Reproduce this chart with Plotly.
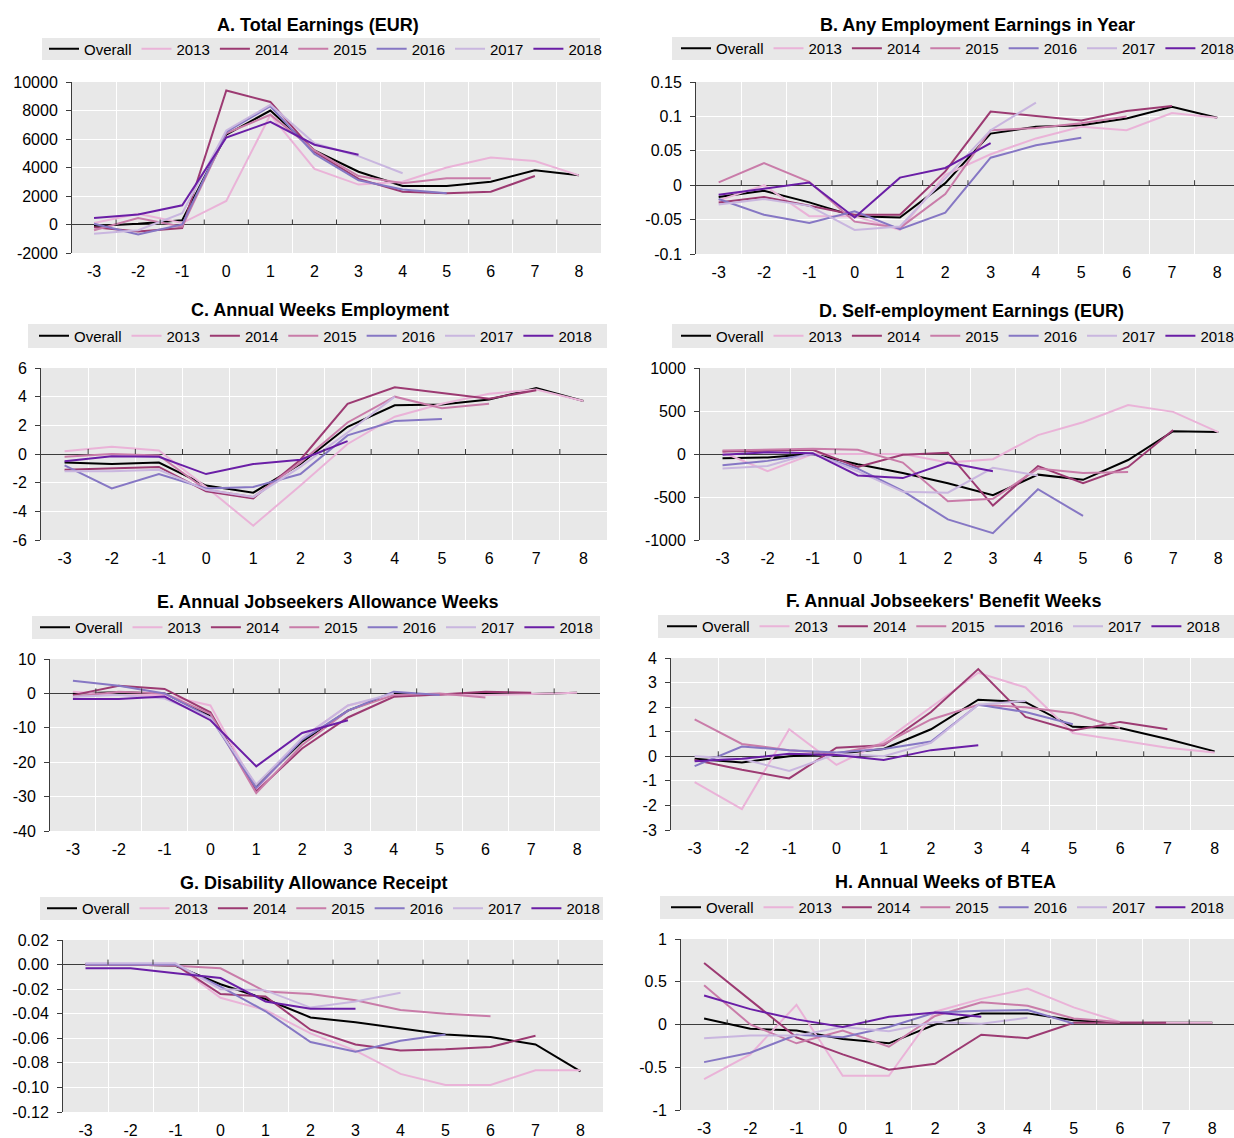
import plotly.graph_objects as go

# ---------------------------------------------------------------------------
# Data: event-time (years relative to spell start) and cohort series
# ---------------------------------------------------------------------------
periods = [-3, -2, -1, 0, 1, 2, 3, 4, 5, 6, 7, 8]
series_names = ["Overall", "2013", "2014", "2015", "2016", "2017", "2018"]
series_colors = ["#000000", "#eab3d8", "#9c3a72", "#c97ca9", "#8677c4", "#c9b6df", "#6a1ea6"]

panel_titles = [
    "A. Total Earnings (EUR)",
    "B. Any Employment Earnings in Year",
    "C. Annual Weeks Employment",
    "D. Self-employment Earnings (EUR)",
    "E. Annual Jobseekers Allowance Weeks",
    "F. Annual Jobseekers' Benefit Weeks",
    "G. Disability Allowance Receipt",
    "H. Annual Weeks of BTEA",
]

# one row per series, in the order of series_names
total_earnings = [
    [-100, 50, 300, 6300, 8000, 5200, 3700, 2700, 2700, 3000, 3800, 3450],
    [100, 750, 100, 1650, 7700, 3900, 2800, 3000, 4000, 4700, 4450, 3450],
    [-200, -500, -250, 9400, 8600, 5100, 3200, 2300, 2200, 2300, 3400],
    [-400, 450, -150, 6400, 7700, 5200, 3400, 2900, 3250, 3250],
    [50, -700, 0, 6500, 8300, 4950, 3100, 2450, 2200],
    [-650, -400, 800, 6600, 8400, 5700, 4800, 3600],
    [450, 700, 1350, 6100, 7200, 5600, 4900],
]
any_employment = [
    [-0.017, -0.008, -0.025, -0.045, -0.047, 0.003, 0.075, 0.085, 0.087, 0.097, 0.114, 0.098],
    [-0.022, 0.0, -0.045, -0.045, -0.065, 0.015, 0.045, 0.068, 0.085, 0.08, 0.105, 0.098],
    [-0.025, -0.017, -0.03, -0.043, -0.043, 0.02, 0.107, 0.1, 0.094, 0.108, 0.115],
    [0.004, 0.032, 0.005, -0.053, -0.062, -0.013, 0.08, 0.083, 0.09, 0.1],
    [-0.02, -0.043, -0.055, -0.038, -0.064, -0.04, 0.04, 0.058, 0.069],
    [-0.028, -0.02, -0.03, -0.065, -0.06, 0.01, 0.08, 0.12],
    [-0.014, -0.005, 0.004, -0.047, 0.011, 0.025, 0.061],
]
weeks_employment = [
    [-0.6, -0.7, -0.6, -2.2, -2.7, -0.7, 1.9, 3.4, 3.45, 3.8, 4.6, 3.7],
    [0.2, 0.5, 0.25, -2.3, -5.0, -2.2, 0.7, 2.6, 3.5, 4.2, 4.5, 3.7],
    [-1.1, -1.0, -0.9, -2.6, -3.1, -0.4, 3.5, 4.65, 4.25, 3.85, 4.45],
    [-0.2, 0.0, -0.1, -2.5, -3.0, -0.6, 2.2, 4.0, 3.2, 3.5],
    [-0.8, -2.4, -1.4, -2.4, -2.3, -1.4, 1.3, 2.3, 2.45],
    [-1.2, -1.2, -1.1, -2.5, -3.0, -0.9, 1.5, 4.0],
    [-0.5, -0.15, -0.2, -1.4, -0.7, -0.4, 0.9],
]
self_employment = [
    [-50, -40, 0, -120, -220, -340, -480, -240, -300, -70, 265, 255],
    [20, -200, 0, 0, 0, -100, -60, 220, 370, 570, 490, 255],
    [30, 40, 50, -150, -10, 15, -600, -140, -340, -150, 280],
    [40, 50, 60, 50, -100, -550, -520, -170, -220, -210],
    [-130, -80, 0, -170, -430, -760, -920, -410, -720],
    [-170, -140, 10, -200, -440, -450, -160, -250],
    [-10, 20, 10, -250, -280, -100, -200],
]
jsa_weeks = [
    [0, 0.3, 0, -6.5, -27, -14, -5, 0, -0.3, 0, -0.2, 0.2],
    [0.5, -0.5, -0.5, -3.5, -28, -13, -3.5, -0.5, -0.3, -0.5, -0.2, 0.2],
    [-0.5, 2.2, 1.3, -5.5, -28.5, -16, -7, -1, -0.3, 0.5, 0.2],
    [-1, 0.5, 0, -6, -29, -15, -5, -0.5, 0, -1.2],
    [3.7, 2.2, 0, -7, -27.5, -13.5, -5, 0.5, -0.5],
    [-1, -0.5, -1.5, -7, -26.5, -13, -3.5, 0],
    [-1.6, -1.6, -0.9, -7.8, -21.2, -11.5, -7.8],
]
jsb_weeks = [
    [-0.1, -0.25, 0.0, 0.1, 0.3, 1.1, 2.3, 2.2, 1.2, 1.15, 0.7, 0.2],
    [-1.05, -2.15, 1.1, -0.35, 0.6, 2.0, 3.4, 2.8, 0.95, 0.65, 0.35, 0.15],
    [-0.15, -0.55, -0.9, 0.35, 0.45, 1.8, 3.55, 1.6, 1.05, 1.4, 1.1],
    [1.5, 0.5, 0.25, 0.1, 0.5, 1.5, 2.1, 2.0, 1.75, 1.15],
    [-0.4, 0.4, 0.25, 0.15, 0.3, 0.6, 2.1, 1.8, 1.3],
    [0.0, -0.1, -0.6, 0.1, 0.0, 0.55, 2.1, 2.25],
    [-0.2, -0.1, 0.1, 0.05, -0.15, 0.25, 0.45],
]
disability = [
    [0.0, 0.0, -0.001, -0.016, -0.028, -0.043, -0.047, -0.052, -0.057, -0.059, -0.065, -0.087],
    [0.0, 0.0, 0.0, -0.027, -0.037, -0.056, -0.07, -0.089, -0.098, -0.098, -0.086, -0.086],
    [0.0, 0.0, 0.0, -0.024, -0.026, -0.053, -0.065, -0.07, -0.069, -0.067, -0.058],
    [0.0, 0.0, -0.001, -0.003, -0.022, -0.024, -0.029, -0.037, -0.04, -0.042],
    [0.0, 0.0, 0.0, -0.018, -0.038, -0.063, -0.071, -0.062, -0.057],
    [0.001, 0.001, 0.001, -0.02, -0.021, -0.035, -0.03, -0.023],
    [-0.003, -0.003, -0.007, -0.011, -0.03, -0.036, -0.036],
]
btea_weeks = [
    [0.07, -0.05, -0.07, -0.17, -0.22, 0.0, 0.13, 0.13, 0.05, 0.02, 0.02, 0.02],
    [-0.64, -0.35, 0.23, -0.6, -0.6, 0.15, 0.3, 0.42, 0.2, 0.03, 0.02, 0.02],
    [0.72, 0.28, -0.15, -0.35, -0.53, -0.46, -0.12, -0.16, 0.02, 0.02, 0.02],
    [0.46, 0.0, -0.22, -0.07, -0.26, 0.1, 0.26, 0.22, 0.07, 0.03],
    [-0.44, -0.33, -0.12, -0.15, -0.03, 0.14, 0.16, 0.17, 0.01],
    [-0.16, -0.13, -0.13, -0.03, -0.08, 0.03, 0.01, 0.08],
    [0.34, 0.18, 0.06, -0.03, 0.09, 0.14, 0.09],
]

# y-axis ticks per panel
yticks_a = [-2000, 0, 2000, 4000, 6000, 8000, 10000]
yticks_b = [-0.1, -0.05, 0, 0.05, 0.1, 0.15]
yticks_c = [-6, -4, -2, 0, 2, 4, 6]
yticks_d = [-1000, -500, 0, 500, 1000]
yticks_e = [-40, -30, -20, -10, 0, 10]
yticks_f = [-3, -2, -1, 0, 1, 2, 3, 4]
yticks_g = [-0.12, -0.10, -0.08, -0.06, -0.04, -0.02, 0.00, 0.02]
yticks_h = [-1, -0.5, 0, 0.5, 1]

# ---------------------------------------------------------------------------
# Layout geometry (pixels on a 1234 x 1138 canvas)
# ---------------------------------------------------------------------------
W, H = 1234, 1138
FONT = "Liberation Sans, Arial, sans-serif"
AXIS_COLOR = "#3c3c3c"
PANEL_BG = "#e8e8e8"

panels = [
    # data, yticks, label format, plot box (l, r, t, b), x max, title centre,
    # legend band (l, r, t, b), legend left edge
    dict(data=total_earnings, yt=yticks_a, fmt="{:g}", box=(72, 601, 82, 253), xmax=8.5,
         title=(318, 25), band=(42, 600, 38, 60), leg=44),
    dict(data=any_employment, yt=yticks_b, fmt="{:g}", box=(696, 1234, 82, 254), xmax=8.37,
         title=(977, 25), band=(672, 1234, 37, 60), leg=676),
    dict(data=weeks_employment, yt=yticks_c, fmt="{:g}", box=(41, 607, 368, 540), xmax=8.5,
         title=(320, 310), band=(28, 607, 324, 348), leg=34),
    dict(data=self_employment, yt=yticks_d, fmt="{:g}", box=(700, 1234, 368, 540), xmax=8.35,
         title=(971, 311), band=(672, 1234, 324, 348), leg=676),
    dict(data=jsa_weeks, yt=yticks_e, fmt="{:g}", box=(50, 600, 659, 831), xmax=8.5,
         title=(327, 602), band=(32, 600, 616, 639), leg=35),
    dict(data=jsb_weeks, yt=yticks_f, fmt="{:g}", box=(671, 1234, 658, 830), xmax=8.41,
         title=(943, 601), band=(658, 1234, 615, 638), leg=662),
    dict(data=disability, yt=yticks_g, fmt="{:.2f}", box=(63, 603, 940, 1112), xmax=8.5,
         title=(313, 883), band=(40, 603, 897, 920), leg=42),
    dict(data=btea_weeks, yt=yticks_h, fmt="{:g}", box=(681, 1234, 939, 1110), xmax=8.47,
         title=(945, 882), band=(660, 1234, 896, 919), leg=666),
]


def px_x(v):
    return v / W


def px_y(v):
    return 1 - v / H


def label(v, fmt):
    s = fmt.format(v)
    if s in ("-0", "-0.00"):
        s = s[1:]
    return s


boundaries = [p + 0.5 for p in periods[:-1]]

fig = go.Figure()
layout = dict(
    width=W, height=H, margin=dict(l=0, r=0, t=0, b=0, autoexpand=False),
    paper_bgcolor="white", plot_bgcolor=PANEL_BG,
    font=dict(family=FONT, size=16, color="#000000"),
    showlegend=True,
)
shapes = []
annotations = []

for i, p in enumerate(panels):
    n = i + 1
    xa = "xaxis" if n == 1 else f"xaxis{n}"
    ya = "yaxis" if n == 1 else f"yaxis{n}"
    xr = "x" if n == 1 else f"x{n}"
    yr = "y" if n == 1 else f"y{n}"
    lg = "legend" if n == 1 else f"legend{n}"
    l, r, t, b = p["box"]

    for k, name in enumerate(series_names):
        vals = p["data"][k]
        fig.add_trace(go.Scatter(
            x=periods[:len(vals)], y=vals, mode="lines", name=name,
            line=dict(color=series_colors[k], width=2),
            xaxis=xr, yaxis=yr, legend=lg, hoverinfo="skip",
        ))

    layout[xa] = dict(
        domain=[px_x(l), px_x(r)], anchor=yr, range=[-3.5, p["xmax"]],
        tickmode="array", tickvals=periods, ticktext=[str(v) for v in periods],
        showgrid=False, zeroline=False, showline=False,
        ticks="outside", ticklen=4, tickcolor="rgba(0,0,0,0)",
        tickfont=dict(size=16),
        minor=dict(tickmode="array", tickvals=boundaries, showgrid=True,
                   gridcolor="white", gridwidth=1, ticks=""),
        fixedrange=True,
    )
    layout[ya] = dict(
        domain=[px_y(b), px_y(t)], anchor=xr, range=[p["yt"][0], p["yt"][-1]],
        tickmode="array", tickvals=p["yt"], ticktext=[label(v, p["fmt"]) for v in p["yt"]],
        showgrid=True, gridcolor="white", gridwidth=1,
        zeroline=True, zerolinecolor=AXIS_COLOR, zerolinewidth=1.3,
        showline=True, linecolor=AXIS_COLOR, linewidth=1,
        ticks="outside", ticklen=5, tickcolor=AXIS_COLOR,
        ticklabelstandoff=5,
        tickfont=dict(size=16), fixedrange=True,
    )

    # small tick marks on the zero line at category boundaries
    for bx in boundaries:
        shapes.append(dict(
            type="line", xref=xr, yref=yr, x0=bx, x1=bx,
            ysizemode="pixel", yanchor=0, y0=0, y1=5,
            line=dict(color=AXIS_COLOR, width=1), layer="above",
        ))

    # grey band behind the legend
    bl, br, bt, bb = p["band"]
    shapes.append(dict(
        type="rect", xref="paper", yref="paper",
        x0=px_x(bl), x1=px_x(br), y0=px_y(bb), y1=px_y(bt),
        fillcolor=PANEL_BG, line=dict(width=0), layer="below",
    ))
    layout[lg] = dict(
        orientation="h", x=px_x(p["leg"]), xanchor="left",
        y=px_y((bt + bb) / 2), yanchor="middle",
        bgcolor="rgba(0,0,0,0)", borderwidth=0,
        font=dict(family=FONT, size=15), itemwidth=30,
        tracegroupgap=0,
    )

    tx, ty = p["title"]
    annotations.append(dict(
        text=f"<b>{panel_titles[i]}</b>", xref="paper", yref="paper",
        x=px_x(tx), y=px_y(ty), xanchor="center", yanchor="middle",
        showarrow=False, font=dict(family=FONT, size=18, color="#000000"),
    ))

layout["shapes"] = shapes
layout["annotations"] = annotations
fig.update_layout(**layout)

fig.write_html("out.html")
